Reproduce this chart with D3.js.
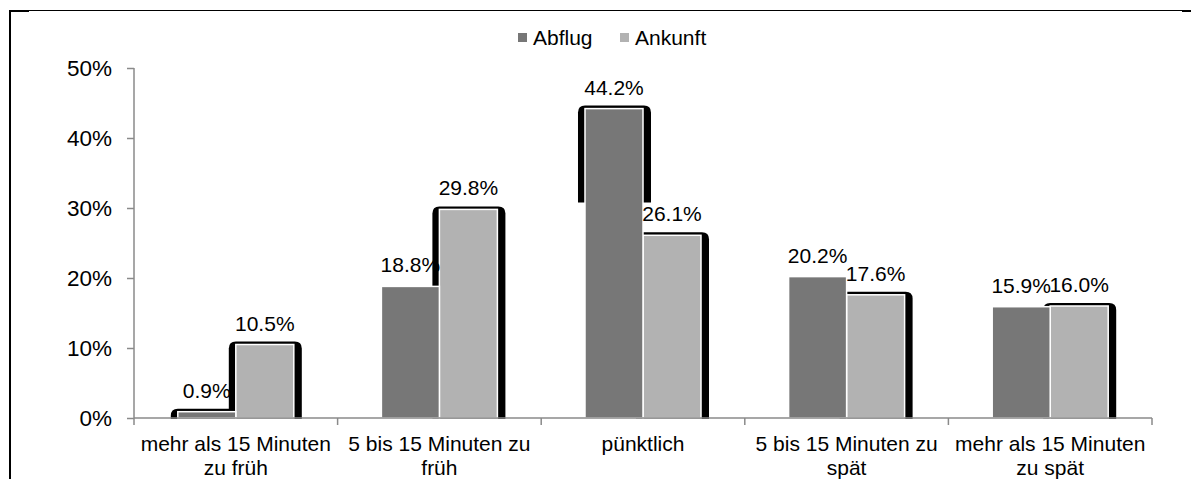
<!DOCTYPE html>
<html lang="de">
<head>
<meta charset="utf-8">
<script src="https://d3js.org/d3.v7.min.js"></script>
<style>
  body { margin: 0; background: #fff; }
  svg { display: block; font-family: "Liberation Sans", Arial, sans-serif; }
</style>
</head>
<body>
<script>
// data
const categories = ["mehr als 15 Minuten zu früh", "5 bis 15 Minuten zu früh", "pünktlich",
                    "5 bis 15 Minuten zu spät", "mehr als 15 Minuten zu spät"];
const categoryLines = [["mehr als 15 Minuten", "zu früh"], ["5 bis 15 Minuten zu", "früh"], ["pünktlich"],
                       ["5 bis 15 Minuten zu", "spät"], ["mehr als 15 Minuten", "zu spät"]];
const series = ["Abflug", "Ankunft"];
const abflug = [0.009, 0.188, 0.442, 0.202, 0.159];
const ankunft = [0.105, 0.298, 0.261, 0.176, 0.160];
const yTicks = [0, 0.1, 0.2, 0.3, 0.4, 0.5];

const colors = { Abflug: "#777777", Ankunft: "#b2b2b2" };
const axisColor = "#8a8a8a";
const shadowedAbflug = new Set([0, 2]);   // excel shadow only shows on these

const W = 1192, H = 479;
const svg = d3.select("body").append("svg").attr("width", W).attr("height", H);

// frame
svg.append("path").attr("d", "M9,10.5H1182").attr("stroke", "#000").attr("stroke-width", 1.2);
svg.append("rect").attr("x", 9).attr("y", 10).attr("width", 20).attr("height", 2).attr("fill", "#000");
svg.append("rect").attr("x", 1182).attr("y", 10).attr("width", 9).attr("height", 2).attr("fill", "#000");
svg.append("rect").attr("x", 9).attr("y", 10).attr("width", 2).attr("height", H - 10).attr("fill", "#000");

const x0 = d3.scaleBand().domain(categories).range([134, 1152]);
const x1 = d3.scaleBand().domain(series).range([0, x0.bandwidth()]).paddingOuter(0.755);
const y = d3.scaleLinear().domain([0, 0.5]).range([418, 68]);

const rows = categories.map((c, i) => ({ c, i, vals: [
  { s: "Abflug", v: abflug[i] }, { s: "Ankunft", v: ankunft[i] }] }));
const bars = rows.flatMap(r => r.vals.map(d => ({ ...d, c: r.c, i: r.i })));

// rounded black shadow behind bars
function shadowPath(d, h) {
  const bx = x0(d.c) + x1(d.s), bw = x1.bandwidth();
  const l = bx - 7, r = bx + bw + 8, t = y(d.v) - 3, b = Math.min(y(0) + 1, t + h), rad = 7;
  return `M${l},${b}V${t + rad}Q${l},${t} ${l + rad},${t}H${r - rad}Q${r},${t} ${r},${t + rad}V${b}Z`;
}

const g = svg.append("g");
g.selectAll("path.shadowA")
  .data(bars.filter(d => d.s === "Abflug" && shadowedAbflug.has(d.i)))
  .join("path").attr("class", "shadowA")
  .attr("d", d => shadowPath(d, 97)).attr("fill", "#000");
g.selectAll("path.shadowB")
  .data(bars.filter(d => d.s === "Ankunft"))
  .join("path").attr("class", "shadowB")
  .attr("d", d => shadowPath(d, 1000)).attr("fill", "#000");

// Ankunft first, then Abflug so it covers the neighbour's shadow
g.selectAll("rect.bar")
  .data(bars.slice().sort((a, b) => (a.s === "Ankunft" ? 0 : 1) - (b.s === "Ankunft" ? 0 : 1)))
  .join("rect").attr("class", "bar")
  .attr("x", d => x0(d.c) + x1(d.s))
  .attr("y", d => y(d.v))
  .attr("width", x1.bandwidth())
  .attr("height", d => y(0) - y(d.v))
  .attr("fill", d => colors[d.s])
  .attr("stroke", "#fff")
  .attr("stroke-width", 1.5);

// y axis
const yAxis = svg.append("g").attr("transform", "translate(134,0)")
  .call(d3.axisLeft(y).tickValues(yTicks).tickFormat(d3.format(".0%")).tickSize(7).tickPadding(15));
yAxis.select(".domain").remove();
yAxis.selectAll(".tick line").attr("stroke", axisColor).attr("stroke-width", 1.5);
yAxis.selectAll(".tick text").attr("font-size", 22.5).attr("font-family", "Liberation Sans, Arial, sans-serif").attr("fill", "#000");
svg.append("line").attr("x1", 134).attr("x2", 134).attr("y1", y(0.5)).attr("y2", y(0) + 7)
  .attr("stroke", axisColor).attr("stroke-width", 1.5);

// x axis
svg.append("line").attr("x1", 134).attr("x2", 1152).attr("y1", y(0)).attr("y2", y(0))
  .attr("stroke", axisColor).attr("stroke-width", 1.5);
const bounds = categories.map(c => x0(c)).concat([x0.range()[1]]);
svg.selectAll("line.xtick").data(bounds.slice(1)).join("line").attr("class", "xtick")
  .attr("x1", d => d).attr("x2", d => d).attr("y1", y(0)).attr("y2", y(0) + 7)
  .attr("stroke", axisColor).attr("stroke-width", 1.5);

const cl = svg.selectAll("text.cat").data(categories).join("text").attr("class", "cat")
  .attr("text-anchor", "middle").attr("font-size", 21).attr("fill", "#000");
cl.each(function(c, i) {
  d3.select(this).selectAll("tspan").data(categoryLines[i]).join("tspan")
    .attr("x", x0(c) + x0.bandwidth() / 2)
    .attr("y", (d, k) => 451 + k * 23.5)
    .text(d => d);
});

// value labels
svg.selectAll("text.val").data(bars).join("text").attr("class", "val")
  .attr("x", d => x0(d.c) + x1(d.s) + x1.bandwidth() / 2)
  .attr("y", d => y(d.v) - 14)
  .attr("text-anchor", "middle").attr("font-size", 21).attr("fill", "#000")
  .text(d => d3.format(".1%")(d.v));

// legend
const legendX = { Abflug: 518, Ankunft: 620 };
const lg = svg.selectAll("g.legend").data(series).join("g").attr("class", "legend")
  .attr("transform", d => `translate(${legendX[d]},33)`);
lg.append("rect").attr("width", 9).attr("height", 9).attr("fill", d => colors[d]);
lg.append("text").attr("x", 15).attr("y", 12).attr("font-size", 21).attr("fill", "#000").text(d => d);
</script>
</body>
</html>
